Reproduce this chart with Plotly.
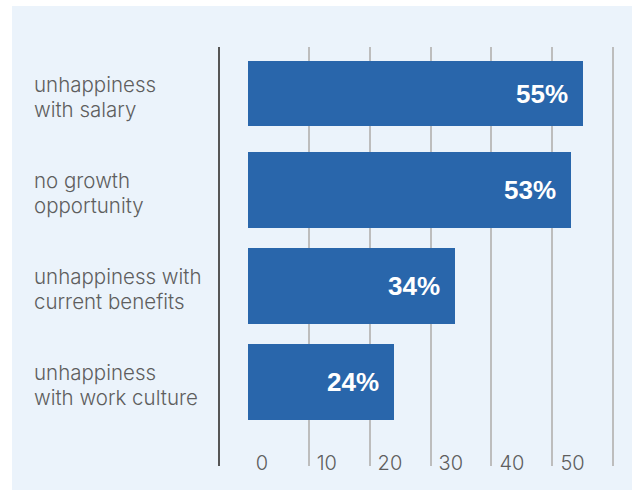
import plotly.graph_objects as go

categories = ["unhappiness\nwith salary", "no growth\nopportunity",
              "unhappiness with\ncurrent benefits", "unhappiness\nwith work culture"]
values = [55, 53, 34, 24]
tick_values = [0, 10, 20, 30, 40, 50, 60]
tick_labels = ["0", "10", "20", "30", "40", "50", ""]

BAR = "#2966AB"
PANEL = "#EBF3FB"
TEXT = "#5E5E5E"
FONT = "Inter, Liberation Sans, Arial"

W, H = 632, 490
ML, MR, MT, MB = 220, 17, 47, 24
pw, ph = W - ML - MR, H - MT - MB

fig = go.Figure(go.Bar(
    x=values, y=list(range(len(categories))), orientation="h",
    marker=dict(color=BAR, line=dict(width=0)),
    width=[0.68, 0.79, 0.79, 0.79],
    hoverinfo="skip",
))

ann = []
for i, (cat, v) in enumerate(zip(categories, values)):
    lines = cat.split("\n")
    n = len(lines)
    for j, ln in enumerate(lines):
        ann.append(dict(
            text=ln, x=(32 - ML) / pw, xref="paper", xanchor="left",
            y=i, yref="y", yanchor="middle",
            yshift=((n - 1) / 2 - j) * 25 - 3,
            showarrow=False, align="left",
            font=dict(family=FONT, size=20.5, color=TEXT, weight=300),
        ))
    ann.append(dict(
        text=f"<b>{v}%</b>", x=v, xref="x", xanchor="right", xshift=-13,
        y=i, yref="y", yanchor="middle", showarrow=False,
        font=dict(family="Liberation Sans, Arial", size=26, color="white"),
    ))

fig.update_layout(
    width=W, height=H,
    margin=dict(l=ML, r=MR, t=MT, b=MB, pad=0),
    paper_bgcolor="white", plot_bgcolor="rgba(0,0,0,0)",
    showlegend=False, bargap=0,
    annotations=ann,
    shapes=[dict(type="rect", xref="paper", yref="paper",
                 x0=(12 - ML) / pw, x1=(W - ML) / pw,
                 y0=-MB / ph, y1=((H - MB) - 6) / ph,
                 fillcolor=PANEL, line=dict(width=0), layer="below")],
    xaxis=dict(
        range=[-4.56, 60.28], tickmode="array", tickvals=tick_values, ticktext=tick_labels,
        showgrid=True, gridcolor="#BDBDBD", gridwidth=1.5,
        zeroline=True, zerolinecolor=PANEL, zerolinewidth=1,
        showline=False, ticks="",
        ticklabelposition="inside right", ticklabelstandoff=-14, ticklabelshift=8,
        tickfont=dict(family=FONT, size=20, color=TEXT, weight=300),
        fixedrange=True,
    ),
    yaxis=dict(
        range=[3.879, -0.488], showticklabels=False, showgrid=False, zeroline=False,
        showline=True, linecolor="#555555", linewidth=2, ticks="", fixedrange=True,
    ),
)

fig.write_html("out.html", config={"displayModeBar": False},
               post_script="document.body.style.margin='0';")
